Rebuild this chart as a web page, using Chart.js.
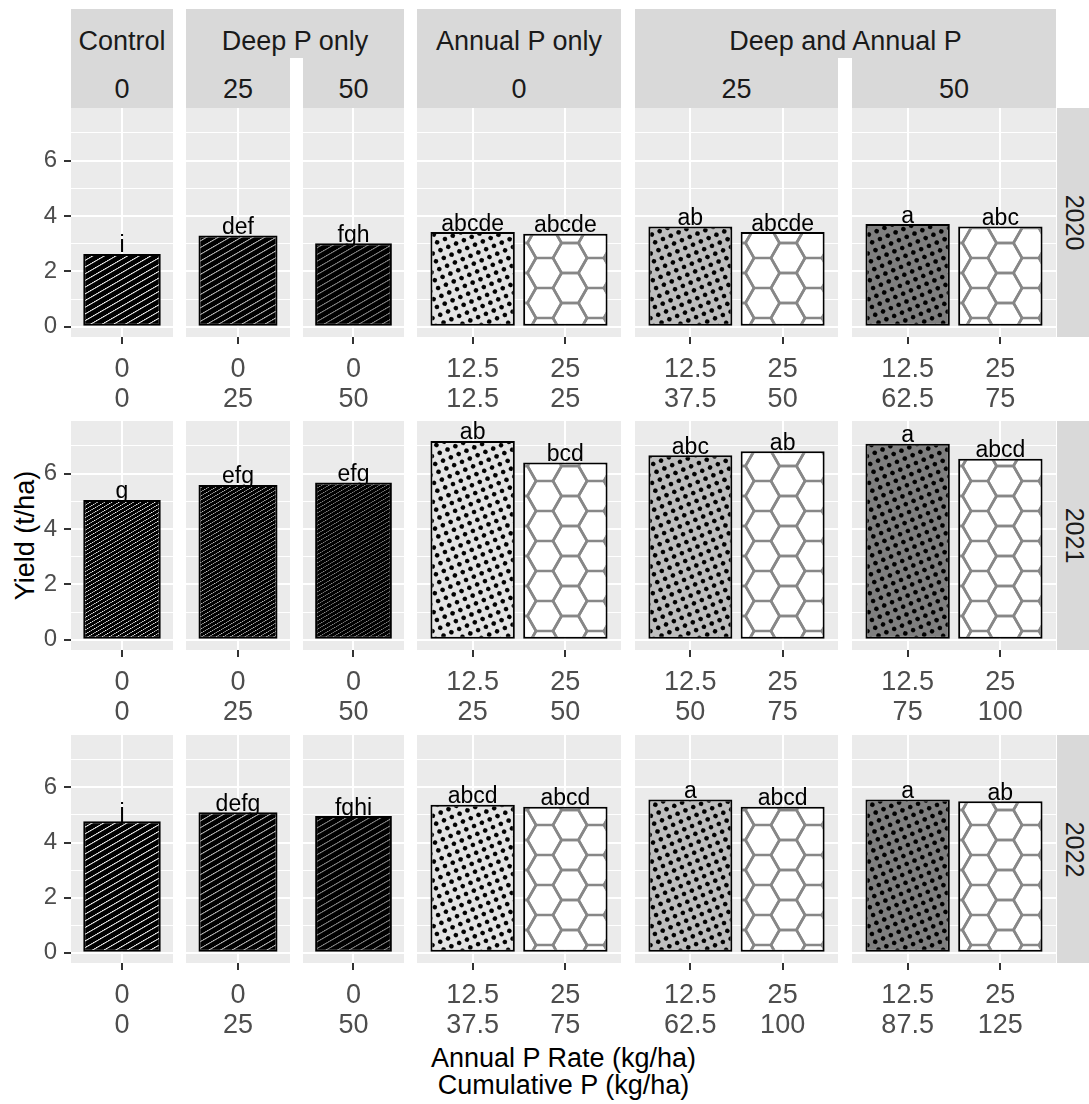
<!DOCTYPE html>
<html>
<head>
<meta charset="utf-8">
<script src="https://cdn.jsdelivr.net/npm/chart.js@4/dist/chart.umd.min.js"></script>
<style>
  html, body { margin: 0; padding: 0; background: #fff; }
  #root { position: relative; width: 1089px; height: 1104px; overflow: hidden; font-family: 'Liberation Sans', Arial, sans-serif; }
  .abs { position: absolute; }
  .txt { position: absolute; white-space: nowrap; text-align: center; }
  canvas { position: absolute; }
</style>
</head>
<body>
<div id="root"></div>
<script>
// ---------------- DATA ----------------
const years = ['2020', '2021', '2022'];
const groupNames = ['Control', 'Deep P only', 'Annual P only', 'Deep and Annual P'];
const groupPanels = [[0], [1, 2], [3], [4, 5]];
const deepRateLabels = ['0', '25', '50', '0', '25', '50'];
const annualRateLabels = [['0'], ['0'], ['0'], ['12.5', '25'], ['12.5', '25'], ['12.5', '25']];
const cumulative2020 = [['0'], ['25'], ['50'], ['12.5', '25'], ['37.5', '50'], ['62.5', '75']];
const cumulative2021 = [['0'], ['25'], ['50'], ['25', '50'], ['50', '75'], ['75', '100']];
const cumulative2022 = [['0'], ['25'], ['50'], ['37.5', '75'], ['62.5', '100'], ['87.5', '125']];
const yield2020 = [[2.63], [3.30], [3.02], [3.42, 3.36], [3.62, 3.42], [3.71, 3.62]];
const yield2021 = [[5.05], [5.59], [5.68], [7.18, 6.40], [6.66, 6.81], [7.08, 6.54]];
const yield2022 = [[4.77], [5.10], [4.96], [5.37, 5.30], [5.56, 5.30], [5.56, 5.50]];
const letters2020 = [['i'], ['def'], ['fgh'], ['abcde', 'abcde'], ['ab', 'abcde'], ['a', 'abc']];
const letters2021 = [['g'], ['efg'], ['efg'], ['ab', 'bcd'], ['abc', 'ab'], ['a', 'abcd']];
const letters2022 = [['j'], ['defg'], ['fghi'], ['abcd', 'abcd'], ['a', 'abcd'], ['a', 'ab']];
const yTicks = [0, 1, 2, 3, 4, 5, 6, 7];
const xTitleLines = ['Annual P Rate (kg/ha)', 'Cumulative P (kg/ha)'];
const yTitle = 'Yield (t/ha)';

const cumulatives = [cumulative2020, cumulative2021, cumulative2022];
const yields = [yield2020, yield2021, yield2022];
const letters = [letters2020, letters2021, letters2022];

// ---------------- LAYOUT / STYLE ----------------
const FONT = "'Liberation Sans', Arial, sans-serif";
const ROWS = [{ top: 108, h: 229 }, { top: 421, h: 229 }, { top: 735, h: 228 }];
const COLS = [{ l: 71, r: 173 }, { l: 186, r: 290 }, { l: 303, r: 404 }, { l: 417, r: 621 }, { l: 635, r: 838 }, { l: 852, r: 1056 }];
const STRIP_TOP = 9, STRIP_MID = 58, STRIP_BOT = 108;
const RIGHT_STRIP = { l: 1057, r: 1089 };
const X_AXIS_H = 80, Y_AXIS_W = 71;
const Y_MIN = -0.37, Y_MAX = 7.9;
const STRIPE_COLORS = ['#ffffff', '#c4c4c4', '#8f8f8f'];
const STRIPE_SPACING = [5.8, 3.6, 5.8];
const DOT_BG = ['#e4e4e4', '#bebebe', '#7f7f7f'];

const root = document.getElementById('root');

function rect(l, t, w, h, bg) {
  const d = document.createElement('div');
  d.className = 'abs';
  Object.assign(d.style, { left: l + 'px', top: t + 'px', width: w + 'px', height: h + 'px', background: bg });
  root.appendChild(d);
  return d;
}
function text(str, cx, baseline, size, color) {
  const d = document.createElement('div');
  d.className = 'txt';
  d.textContent = str;
  Object.assign(d.style, {
    left: (cx - 300) + 'px', width: '600px', top: (baseline - 0.8465 * size) + 'px',
    fontSize: size + 'px', lineHeight: size + 'px', color: color
  });
  root.appendChild(d);
}
function rotText(str, cx, cy, size, color, deg) {
  const d = document.createElement('div');
  d.className = 'txt';
  d.textContent = str;
  Object.assign(d.style, {
    left: (cx - 150) + 'px', width: '300px', top: (cy - size / 2) + 'px', height: size + 'px',
    fontSize: size + 'px', lineHeight: size + 'px', color: color,
    transform: 'rotate(' + deg + 'deg)', transformOrigin: '50% 50%'
  });
  root.appendChild(d);
}

// ---------- strips ----------
groupNames.forEach((name, g) => {
  const cols = groupPanels[g];
  const l = COLS[cols[0]].l, r = COLS[cols[cols.length - 1]].r;
  rect(l, STRIP_TOP, r - l, STRIP_MID - STRIP_TOP, '#d9d9d9');
  text(name, (l + r) / 2, 50.7, 27, '#1a1a1a');
});
COLS.forEach((c, i) => {
  rect(c.l, STRIP_MID, c.r - c.l, STRIP_BOT - STRIP_MID, '#d9d9d9');
  text(deepRateLabels[i], (c.l + c.r) / 2, 99.3, 27, '#1a1a1a');
});
ROWS.forEach((r, i) => {
  rect(RIGHT_STRIP.l, r.top, RIGHT_STRIP.r - RIGHT_STRIP.l, r.h, '#d9d9d9');
  rotText(years[i], 1073.7, r.top + r.h / 2, 25, '#1a1a1a', 90);
});
// axis titles
const panelsCenter = (COLS[0].l + COLS[5].r) / 2;
text(xTitleLines[0], panelsCenter, 1068.3, 27, '#000');
text(xTitleLines[1], panelsCenter, 1095, 27, '#000');
rotText(yTitle, 25, ROWS[1].top + ROWS[1].h / 2, 27, '#000', -90);

// ---------- patterns ----------
function stripePattern(lineColor, spacing) {
  const c = document.createElement('canvas');
  c.width = 20; c.height = 10;
  const g = c.getContext('2d');
  g.fillStyle = '#000'; g.fillRect(0, 0, 20, 10);
  g.fillStyle = lineColor; g.fillRect(0, 0, 20, 1.6);
  const p = g.createPattern(c, 'repeat');
  p.setTransform(new DOMMatrix().rotateSelf(-30).scaleSelf(1, spacing / 10));
  return p;
}
function dotPattern(bg) {
  const s = 20;
  const c = document.createElement('canvas');
  c.width = s; c.height = s;
  const g = c.getContext('2d');
  g.fillStyle = bg; g.fillRect(0, 0, s, s);
  g.fillStyle = '#000';
  g.beginPath(); g.arc(s / 4, s / 4, 3.8, 0, Math.PI * 2); g.fill();
  g.beginPath(); g.arc(3 * s / 4, 3 * s / 4, 3.8, 0, Math.PI * 2); g.fill();
  const p = g.createPattern(c, 'repeat');
  p.setTransform(new DOMMatrix().rotateSelf(22).scaleSelf(0.6, 0.6));
  return p;
}
function hexPattern() {
  const s = 17, w = 51, h = 30;
  const c = document.createElement('canvas');
  c.width = w; c.height = h;
  const g = c.getContext('2d');
  g.fillStyle = '#fff'; g.fillRect(0, 0, w, h);
  g.strokeStyle = '#878787'; g.lineWidth = 2.6;
  const centers = [[0, 0], [w, 0], [0, h], [w, h], [w / 2, h / 2]];
  centers.forEach(([cx, cy]) => {
    g.beginPath();
    g.moveTo(cx + s, cy); g.lineTo(cx + s / 2, cy + h / 2); g.lineTo(cx - s / 2, cy + h / 2);
    g.lineTo(cx - s, cy); g.lineTo(cx - s / 2, cy - h / 2); g.lineTo(cx + s / 2, cy - h / 2);
    g.closePath(); g.stroke();
  });
  return g.createPattern(c, 'repeat');
}
function panelFills(r, c) {
  if (c < 3) return [stripePattern(STRIPE_COLORS[c], STRIPE_SPACING[r])];
  return [dotPattern(DOT_BG[c - 3]), hexPattern()];
}

// ---------- plugins ----------
const panelBg = {
  id: 'panelBg',
  beforeDraw(chart) {
    const { ctx, chartArea: a } = chart;
    ctx.save(); ctx.fillStyle = '#ebebeb';
    ctx.fillRect(a.left, a.top, a.right - a.left, a.bottom - a.top);
    ctx.restore();
  }
};
const barLetters = {
  id: 'barLetters',
  beforeDatasetsDraw(chart) {
    const ctx = chart.ctx;
    const ds = chart.data.datasets[0];
    const meta = chart.getDatasetMeta(0);
    ctx.save();
    ctx.font = '23px ' + FONT; ctx.fillStyle = '#000';
    ctx.textAlign = 'center'; ctx.textBaseline = 'alphabetic';
    meta.data.forEach((el, i) => ctx.fillText(ds.letters[i], el.x, el.y - 1.5));
    ctx.restore();
  }
};

Chart.defaults.font.family = FONT;

function zeroPad(s) { s.paddingTop = 0; s.paddingBottom = 0; s.paddingLeft = 0; s.paddingRight = 0; }

function makePanel(r, c) {
  const vals = yields[r][c];
  const labs = letters[r][c];
  const ann = annualRateLabels[c];
  const cum = cumulatives[r][c];
  const n = vals.length;
  const extraL = c === 0 ? Y_AXIS_W : 0;
  const W = COLS[c].r - COLS[c].l + extraL;
  const H = ROWS[r].h + X_AXIS_H;
  const cv = document.createElement('canvas');
  cv.width = W; cv.height = H;
  Object.assign(cv.style, { left: (COLS[c].l - extraL) + 'px', top: ROWS[r].top + 'px', width: W + 'px', height: H + 'px' });
  root.appendChild(cv);
  const isMajor = v => Math.round(v) % 2 === 0;
  new Chart(cv, {
    type: 'bar',
    data: {
      datasets: [{
        data: vals.map((v, i) => ({ x: i + 1, y: v })),
        letters: labs,
        backgroundColor: panelFills(r, c),
        borderColor: '#000', borderWidth: 2, borderSkipped: false,
        categoryPercentage: n === 1 ? 0.76 : 0.91, barPercentage: 1
      }]
    },
    options: {
      responsive: false, animation: false, devicePixelRatio: 1,
      layout: { padding: 0, autoPadding: false },
      plugins: { legend: { display: false }, tooltip: { enabled: false }, title: { display: false } },
      scales: {
        x: {
          type: 'linear', min: 0.4, max: n + 0.6, offset: false, bounds: 'data',
          afterBuildTicks: s => { s.ticks = vals.map((v, i) => ({ value: i + 1 })); },
          afterFit: s => { s.height = X_AXIS_H; zeroPad(s); },
          ticks: { callback: (v, i) => [ann[i], cum[i]], font: { size: 27, lineHeight: 1.111 }, color: '#4d4d4d', padding: 10.9, maxRotation: 0, autoSkip: false },
          grid: { offset: false, color: '#ffffff', lineWidth: 2, drawTicks: true, tickLength: 7, tickWidth: 2, tickColor: '#333333' },
          border: { display: false }
        },
        y: {
          type: 'linear', min: Y_MIN, max: Y_MAX, bounds: 'data',
          afterBuildTicks: s => { s.ticks = yTicks.map(v => ({ value: v })); },
          afterFit: s => { s.width = extraL; zeroPad(s); },
          ticks: { display: c === 0, callback: v => isMajor(v) ? String(v) : '', font: { size: 24 }, color: '#4d4d4d', padding: 7 },
          grid: {
            color: '#ffffff',
            lineWidth: ctx => (ctx.tick && isMajor(ctx.tick.value)) ? 2 : 1,
            drawTicks: c === 0, tickLength: 7, tickWidth: 2,
            tickColor: ctx => (ctx.tick && isMajor(ctx.tick.value)) ? '#333333' : 'rgba(0,0,0,0)'
          },
          border: { display: false }
        }
      }
    },
    plugins: [panelBg, barLetters]
  });
}

for (let r = 0; r < 3; r++) for (let c = 0; c < 6; c++) makePanel(r, c);
</script>
</body>
</html>
